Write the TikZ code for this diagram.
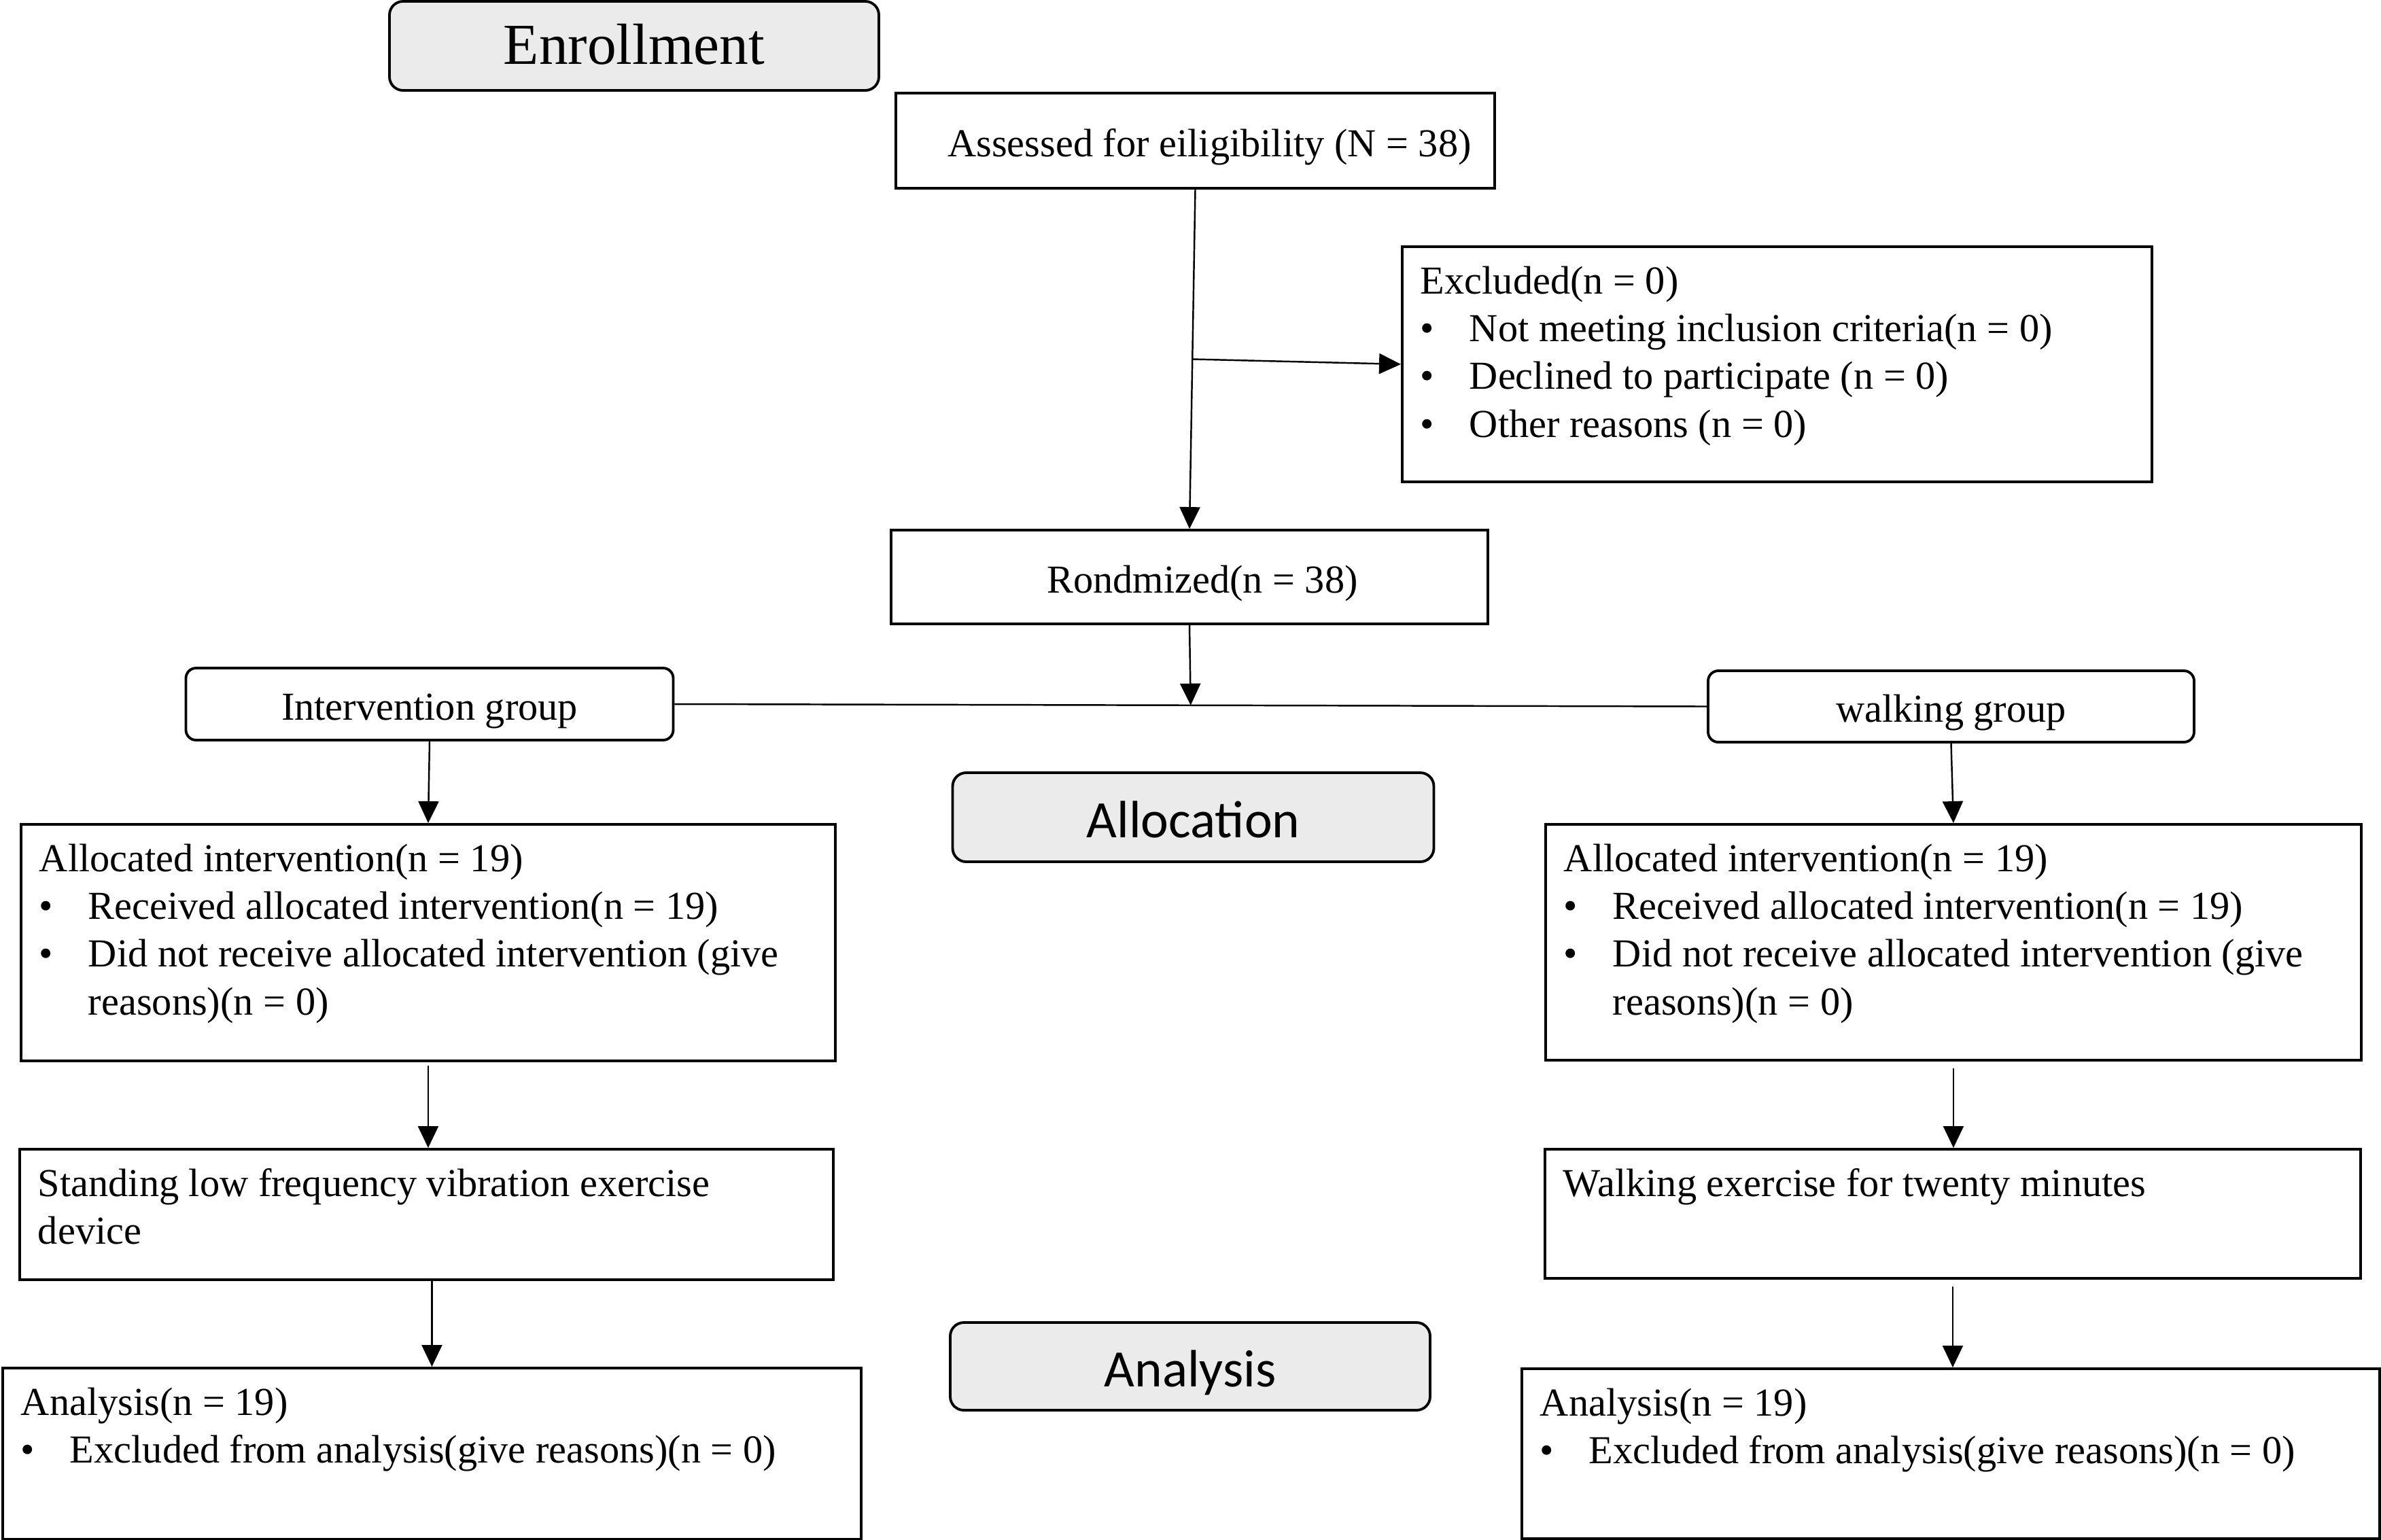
\documentclass[tikz,border=0pt]{standalone}
\usepackage{fontspec}
\setmainfont{Liberation Serif}
\newfontfamily\stagefont{Carlito}
\usetikzlibrary{arrows.meta, positioning, calc}

\newcommand{\itm}{\makebox[0.72cm][l]{\textbullet}}
\newcommand{\boxtext}[3]{\parbox[c][#2][t]{#1}{\raggedright\strut #3}}

\begin{document}
\begin{tikzpicture}[
  >={Triangle[length=0.32cm, width=0.3cm]},
  font=\fontsize{16.6}{20}\selectfont,
  box/.style={draw, line width=1.1pt, inner xsep=0.27cm, inner ysep=0.2cm, anchor=north west},
  cbox/.style={draw, line width=1.1pt, inner sep=0pt, text height=0.46cm, text depth=0pt},
  grp/.style={cbox, rounded corners=0.15cm},
  stage/.style={cbox, rounded corners=0.2cm, fill=black!8, text height=0.6cm, font=\stagefont\fontsize{22}{26}\selectfont},
  link/.style={->, line width=0.7pt}
]
  \useasboundingbox (0,0) rectangle (35.03,-22.65);

  % Stage labels
  \node[stage, minimum width=7.2cm, minimum height=1.31cm, text height=0.54cm, font=\fontsize{24.3}{28}\selectfont] (enroll) at (9.33,-0.675) {Enrollment};
  \node[stage, minimum width=7.08cm, minimum height=1.31cm] (alloc) at (17.555,-12.025) {Allocation};
  \node[stage, minimum width=7.06cm, minimum height=1.29cm] (analysis) at (17.51,-20.105) {Analysis};

  % Enrollment
  \node[cbox, minimum width=8.81cm, minimum height=1.40cm] (assess) at (17.585,-2.07) {\hspace*{0.42cm}Assessed for eiligibility (N = 38)};
  \node[box] (excl) at (20.61,-3.61) {\boxtext{10.49cm}{3.06cm}{Excluded(n = 0)\\
    \itm Not meeting inclusion criteria(n = 0)\\
    \itm Declined to participate (n = 0)\\
    \itm Other reasons (n = 0)}};
  \node[cbox, minimum width=8.78cm, minimum height=1.38cm] (rand) at (17.50,-8.49) {\hspace*{0.38cm}Rondmized(n = 38)};

  % Groups
  \node[grp, minimum width=7.17cm, minimum height=1.06cm] (intgrp) at (6.32,-10.36) {Intervention group};
  \node[grp, minimum width=7.15cm, minimum height=1.05cm] (walkgrp) at (28.705,-10.395) {walking group};

  % Allocation
  \node[box] (allocL) at (0.29,-12.11) {\boxtext{11.44cm}{3.08cm}{Allocated intervention(n = 19)\\
    \itm Received allocated intervention(n = 19)\\
    \itm Did not receive allocated intervention (give\\
    \hspace*{0.72cm}reasons)(n = 0)}};
  \node[box] (allocR) at (22.72,-12.11) {\boxtext{11.46cm}{3.07cm}{Allocated intervention(n = 19)\\
    \itm Received allocated intervention(n = 19)\\
    \itm Did not receive allocated intervention (give\\
    \hspace*{0.72cm}reasons)(n = 0)}};

  % Exercise
  \node[box] (stand) at (0.27,-16.89) {\boxtext{11.43cm}{1.52cm}{Standing low frequency vibration exercise\\ device}};
  \node[box] (walkex) at (22.71,-16.89) {\boxtext{11.46cm}{1.50cm}{Walking exercise for twenty minutes}};

  % Analysis
  \node[box] (anaL) at (0.02,-20.11) {\boxtext{12.09cm}{2.12cm}{Analysis(n = 19)\\
    \itm Excluded from analysis(give reasons)(n = 0)}};
  \node[box] (anaR) at (22.37,-20.12) {\boxtext{12.08cm}{2.10cm}{Analysis(n = 19)\\
    \itm Excluded from analysis(give reasons)(n = 0)}};

  % Connectors
  \draw[link] (assess.south) -- (rand.north);
  \coordinate (split) at ($(assess.south)!0.5!(rand.north)$);
  \draw[link] (split) -- (excl.west);
  \draw[line width=0.7pt] (intgrp.east) -- (walkgrp.west);
  \coordinate (join) at ($(intgrp.east)!0.5!(walkgrp.west)$);
  \draw[link] (rand.south) -- (join);
  \draw[link] (intgrp.south) -- (allocL.north);
  \draw[link] (walkgrp.south) -- (allocR.north);
  \draw[link, shorten <=0.05cm] (allocL.south) -- (allocL.south |- stand.north);
  \draw[link, shorten <=0.1cm] (allocR.south) -- (allocR.south |- walkex.north);
  \draw[link] (anaL.north |- stand.south) -- (anaL.north);
  \draw[link, shorten <=0.1cm] (walkex.south) -- (walkex.south |- anaR.north);

\end{tikzpicture}
\end{document}
